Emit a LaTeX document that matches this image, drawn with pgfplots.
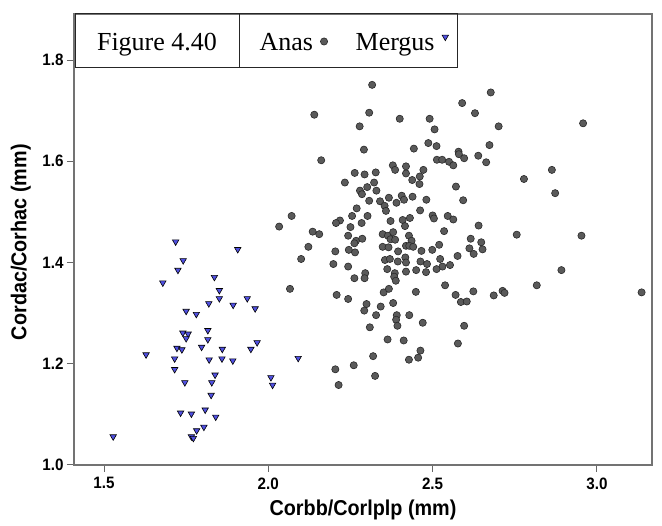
\documentclass[border=0pt]{standalone}
\usepackage{pgfplots}
\pgfplotsset{compat=1.18}
\usepackage{fontspec}
\setmainfont{Liberation Serif}
\newfontfamily\arialfont[FakeStretch=0.92]{Liberation Sans}
\definecolor{anasfill}{RGB}{90,90,90}
\definecolor{anasedge}{RGB}{40,40,40}
\definecolor{mergfill}{RGB}{80,80,225}
\pgfplotsset{
  anaslegend/.style={legend image code/.code={\draw[##1] plot coordinates {(0pt,1.5pt)};}},
  merglegend/.style={legend image code/.code={\draw[##1] plot coordinates {(0pt,6pt)};}},
}
\begin{document}
\begin{tikzpicture}
\begin{axis}[
  scale only axis, width=578pt, height=451pt,
  xmin=1.4087, xmax=3.1677, ymin=1.0, ymax=1.891,
  xtick={1.5,2.0,2.5,3.0}, ytick={1.0,1.2,1.4,1.6,1.8},
  tick align=outside, tick pos=left, major tick length=7pt,
  axis line style={black!55, line width=1.2pt},
  every tick/.style={black!60, line width=1pt},
  /pgf/number format/assume math mode=true,
  xticklabel style={/pgf/number format/fixed, /pgf/number format/fixed zerofill, /pgf/number format/precision=1, yshift=-2pt},
  yticklabel style={/pgf/number format/fixed, /pgf/number format/fixed zerofill, /pgf/number format/precision=1},
  ticklabel style={font=\arialfont\bfseries\fontsize{16.5}{18}\selectfont},
  xlabel={Corbb/Corlplp (mm)}, ylabel={Cordac/Corhac (mm)},
  label style={font=\arialfont\bfseries\fontsize{21.5}{24}\selectfont},
  xlabel style={at={(axis description cs:0.5,-0.0998)}, anchor=center},
  ylabel style={at={(axis description cs:-0.092,0.494)}, anchor=center},
  legend style={draw=none, fill=none, at={(axis description cs:0.3206,0.9357)}, anchor=west,
    font=\fontsize{26}{28}\selectfont, inner xsep=0pt, inner ysep=0pt,
    nodes={inner sep=0pt},
    /tikz/every odd column/.append style={column sep=7.5pt},
    /tikz/every even column/.append style={column sep=28pt}},
  legend columns=2,
  legend plot pos=right,
]
\addplot[only marks, mark=*, mark size=3.6pt, mark options={fill=anasfill, draw=anasedge, line width=0.6pt}, anaslegend] table {
x y
2.316 1.751
2.140 1.692
2.307 1.696
2.278 1.669
2.400 1.684
2.491 1.684
2.506 1.663
2.291 1.623
2.161 1.602
2.443 1.625
2.487 1.636
2.512 1.630
2.579 1.619
2.580 1.614
2.513 1.603
2.529 1.603
2.550 1.599
2.563 1.592
2.379 1.592
2.386 1.583
2.419 1.590
2.419 1.576
2.472 1.583
2.461 1.570
2.460 1.555
2.438 1.563
2.263 1.577
2.293 1.574
2.327 1.578
2.233 1.558
2.322 1.558
2.301 1.549
2.279 1.542
2.285 1.535
2.329 1.542
2.571 1.550
2.307 1.522
2.340 1.521
2.367 1.528
2.406 1.532
2.413 1.524
2.439 1.530
2.481 1.524
2.354 1.512
2.358 1.502
2.390 1.518
2.269 1.507
2.071 1.492
2.033 1.471
2.255 1.492
2.218 1.483
2.206 1.478
2.302 1.492
2.284 1.478
2.250 1.470
2.372 1.482
2.409 1.484
2.431 1.488
2.462 1.503
2.500 1.493
2.504 1.487
2.546 1.492
2.563 1.485
2.135 1.461
2.155 1.456
2.122 1.431
2.100 1.407
2.204 1.422
2.198 1.397
2.243 1.453
2.267 1.443
2.262 1.438
2.286 1.447
2.245 1.425
2.264 1.420
2.243 1.392
2.416 1.472
2.348 1.456
2.364 1.453
2.380 1.460
2.372 1.446
2.386 1.445
2.348 1.431
2.366 1.430
2.395 1.422
2.419 1.433
2.428 1.453
2.436 1.443
2.429 1.433
2.441 1.431
2.466 1.423
2.499 1.425
2.520 1.435
2.535 1.462
2.576 1.413
2.355 1.405
2.370 1.407
2.394 1.402
2.417 1.410
2.419 1.400
2.463 1.402
2.483 1.397
2.523 1.407
2.530 1.392
2.553 1.395
2.262 1.369
2.295 1.379
2.293 1.369
2.066 1.348
2.208 1.336
2.243 1.328
2.362 1.387
2.385 1.379
2.383 1.372
2.388 1.364
2.419 1.382
2.450 1.385
2.480 1.381
2.512 1.387
2.538 1.355
2.570 1.336
2.351 1.341
2.367 1.348
2.449 1.342
2.380 1.320
2.299 1.318
2.292 1.305
2.342 1.313
2.328 1.296
2.391 1.296
2.389 1.287
2.393 1.275
2.429 1.296
2.470 1.281
2.309 1.272
2.363 1.248
2.412 1.246
2.463 1.226
2.456 1.212
2.428 1.208
2.319 1.215
2.260 1.197
2.204 1.189
2.325 1.176
2.214 1.158
2.577 1.240
2.677 1.736
2.590 1.715
2.629 1.695
2.701 1.669
2.958 1.675
2.673 1.632
2.596 1.606
2.639 1.611
2.663 1.598
2.863 1.583
2.778 1.565
2.873 1.537
2.593 1.523
2.640 1.473
2.616 1.447
2.648 1.440
2.652 1.426
2.612 1.428
2.625 1.417
2.756 1.455
2.953 1.453
2.892 1.385
2.817 1.355
2.624 1.343
2.586 1.322
2.604 1.323
2.686 1.335
2.713 1.344
2.719 1.340
3.136 1.341
2.596 1.275
};
\addlegendentry{Anas}
\addplot[only marks, mark=triangle*, mark size=3.7pt, mark options={rotate=180, fill=mergfill, draw=black, line width=0.6pt}, merglegend] table {
x y
1.718 1.441
1.907 1.426
1.741 1.404
1.725 1.385
1.679 1.360
1.836 1.371
1.851 1.345
1.851 1.329
1.819 1.319
1.893 1.316
1.936 1.329
1.960 1.309
1.750 1.304
1.781 1.298
1.740 1.261
1.756 1.259
1.750 1.250
1.816 1.266
1.816 1.248
1.797 1.233
1.722 1.231
1.737 1.228
1.860 1.229
1.947 1.229
1.966 1.242
1.628 1.218
1.715 1.210
1.820 1.208
1.859 1.210
1.892 1.206
2.091 1.211
1.715 1.189
1.838 1.178
1.828 1.163
1.746 1.163
2.008 1.173
2.013 1.158
1.826 1.138
1.733 1.103
1.766 1.101
1.808 1.109
1.840 1.095
1.804 1.075
1.782 1.068
1.766 1.056
1.772 1.053
1.528 1.056
};
\addlegendentry{Mergus}
\end{axis}
\draw[black!85, line width=1pt] (1pt,397pt) rectangle (165pt,451pt);
\draw[black!85, line width=1pt] (165pt,397pt) rectangle (383pt,451pt);
\node[anchor=base, inner sep=0pt, font=\fontsize{26}{28}\selectfont] at (83pt,414.3pt) {Figure 4.40};
\pgfresetboundingbox
\path[use as bounding box] (-74pt,-61pt) rectangle (588pt,465pt);
\end{tikzpicture}
\end{document}
